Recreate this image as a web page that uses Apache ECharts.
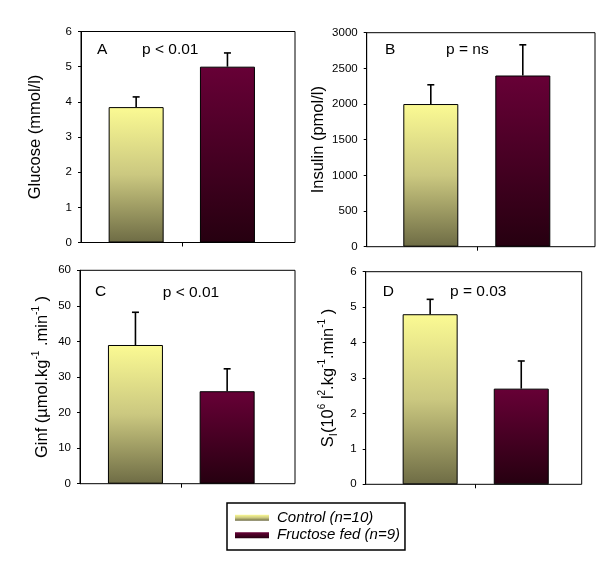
<!DOCTYPE html>
<html><head><meta charset="utf-8">
<script src="https://cdn.jsdelivr.net/npm/echarts@6/dist/echarts.min.js"></script>
<style>html,body{margin:0;padding:0;background:#fff}#c{width:600px;height:561px}</style>
</head><body><div id="c"></div><script>
// ---- data ----
const groups = ['Control (n=10)', 'Fructose fed (n=9)'];
const panelLetters = ['A', 'B', 'C', 'D'];
const pValues = ['p < 0.01', 'p = ns', 'p < 0.01', 'p = 0.03'];
const glucoseMean = [3.85, 5.0];
const glucoseSem = [0.29, 0.39];
const insulinMean = [2000, 2400];
const insulinSem = [270, 430];
const ginfMean = [39, 26];
const ginfSem = [9.2, 6.3];
const siMean = [4.8, 2.7];
const siSem = [0.42, 0.78];
const axisMax = [6, 3000, 60, 6];
const axisStep = [1, 500, 10, 1];
const axisTitles = [
  'Glucose (mmol/l)',
  'Insulin (pmol/l)',
  'Ginf (µmol.kg{sup|-1} .min{sup|-1} )',
  'S{sub|I}(10{sup|6} l{sup|2}.kg{sup|-1}.min{sup|-1} )'
];
const tickSpot = [1]; // divider tick between the two groups

// ---- layout / style ----
const FONT = 'Liberation Sans, Arial, sans-serif';
const layout = [
  {outer: [81, 31.5, 214, 211], inner: [90.5, 182.6], nameGap: 35, letter: [97, 41.5], p: [142, 41.5]},
  {outer: [366.7, 32.7, 228.3, 214], inner: [384.8, 184], nameGap: 37.5, letter: [385, 42], p: [446, 42]},
  {outer: [80, 270.3, 215, 213.4], inner: [89.6, 183.4], nameGap: 27, letter: [95, 284], p: [162.7, 284.5]},
  {outer: [365.7, 271.7, 216, 212.6], inner: [384.6, 182.2], nameGap: 26, letter: [382.7, 283.5], p: [450, 284]}
];
const means = [glucoseMean, insulinMean, ginfMean, siMean];
const sems = [glucoseSem, insulinSem, ginfSem, siSem];

const ctrlGrad = new echarts.graphic.LinearGradient(0, 0, 0, 1, [
  {offset: 0, color: '#FBFA93'}, {offset: 0.5, color: '#CBC880'}, {offset: 1, color: '#6E6C45'}]);
const fruGrad = new echarts.graphic.LinearGradient(0, 0, 0, 1, [
  {offset: 0, color: '#670036'}, {offset: 1, color: '#260010'}]);
const gradients = [ctrlGrad, fruGrad];

const grids = [], xAxes = [], yAxes = [], series = [], graphics = [];

layout.forEach((L, i) => {
  const og = grids.length;
  grids.push({left: L.outer[0], top: L.outer[1], width: L.outer[2], height: L.outer[3],
    show: true, borderColor: '#000', borderWidth: 1, backgroundColor: 'transparent', outerBoundsMode: 'none'});
  const ig = grids.length;
  grids.push({left: L.inner[0], top: L.outer[1], width: L.inner[1], height: L.outer[3],
    show: false, outerBoundsMode: 'none'});

  xAxes.push({gridIndex: og, type: 'category', data: [''], position: 'bottom', show: false});
  yAxes.push({
    gridIndex: og, type: 'value', min: 0, max: axisMax[i], interval: axisStep[i],
    axisLine: {show: true, lineStyle: {color: '#000', width: 1}},
    axisTick: {show: true, length: 3, lineStyle: {color: '#000', width: 1}},
    axisLabel: {color: '#000', fontSize: 11.5, fontFamily: FONT, margin: 9, formatter: v => String(v)},
    splitLine: {show: false},
    name: axisTitles[i], nameLocation: 'middle', nameGap: L.nameGap, nameRotate: 90,
    nameMoveOverlap: false,
    nameTextStyle: {
      color: '#000', fontSize: 16.5, fontFamily: FONT, lineHeight: 22,
      rich: {
        sup: {fontSize: 10, lineHeight: 10, verticalAlign: 'top', color: '#000', fontFamily: FONT},
        sub: {fontSize: 11, lineHeight: 11, verticalAlign: 'bottom', color: '#000', fontFamily: FONT}
      }
    }
  });

  const ix = xAxes.length;
  xAxes.push({gridIndex: ig, type: 'category', data: groups, position: 'bottom', show: false});
  xAxes.push({gridIndex: ig, type: 'value', min: 0, max: 2, position: 'bottom',
    axisLine: {show: false}, axisLabel: {show: false}, splitLine: {show: false},
    axisTick: {show: true, length: 4, customValues: tickSpot, lineStyle: {color: '#000', width: 1}}});
  const iy = yAxes.length;
  yAxes.push({gridIndex: ig, type: 'value', min: 0, max: axisMax[i], show: false});

  groups.forEach((g, k) => {
    series.push({
      type: 'bar', name: g, xAxisIndex: ix, yAxisIndex: iy,
      data: groups.map((_, j) => j === k ? means[i][k] : '-'),
      barWidth: 55, barGap: '-100%',
      itemStyle: {color: gradients[k], borderColor: '#000', borderWidth: 1},
      silent: true
    });
  });
  series.push({
    type: 'custom', xAxisIndex: ix, yAxisIndex: iy, z: 5, silent: true,
    data: groups.map((_, k) => [k, means[i][k], sems[i][k]]),
    encode: {x: 0, y: 1},
    renderItem: (params, api) => {
      const x = api.value(0), m = api.value(1), e = api.value(2);
      const b = api.coord([x, m]);
      const t = api.coord([x, m + e]);
      const st = {stroke: '#000', lineWidth: 1.6};
      return {type: 'group', children: [
        {type: 'line', shape: {x1: b[0], y1: b[1], x2: t[0], y2: t[1]}, style: st},
        {type: 'line', shape: {x1: t[0] - 3.5, y1: t[1], x2: t[0] + 3.5, y2: t[1]}, style: st}
      ]};
    }
  });

  graphics.push({type: 'text', x: L.letter[0], y: L.letter[1],
    style: {text: panelLetters[i], font: '15.5px ' + FONT, fill: '#000', verticalAlign: 'top'}});
  graphics.push({type: 'text', x: L.p[0], y: L.p[1],
    style: {text: pValues[i], font: '15.5px ' + FONT, fill: '#000', verticalAlign: 'top'}});
});

const chart = echarts.init(document.getElementById('c'));
chart.setOption({
  animation: false,
  backgroundColor: '#fff',
  grid: grids, xAxis: xAxes, yAxis: yAxes, series: series,
  graphic: graphics,
  legend: {
    left: 227, top: 503, orient: 'vertical', data: groups, icon: 'rect',
    itemWidth: 34, itemHeight: 6, itemGap: 0, padding: [6, 5, 6, 8],
    borderColor: '#000', borderWidth: 1.5, selectedMode: false,
    itemStyle: {borderWidth: 0},
    textStyle: {fontStyle: 'italic', fontSize: 15, color: '#000', fontFamily: FONT, lineHeight: 17.5, padding: [0, 0, 0, 3]}
  }
});
</script></body></html>
